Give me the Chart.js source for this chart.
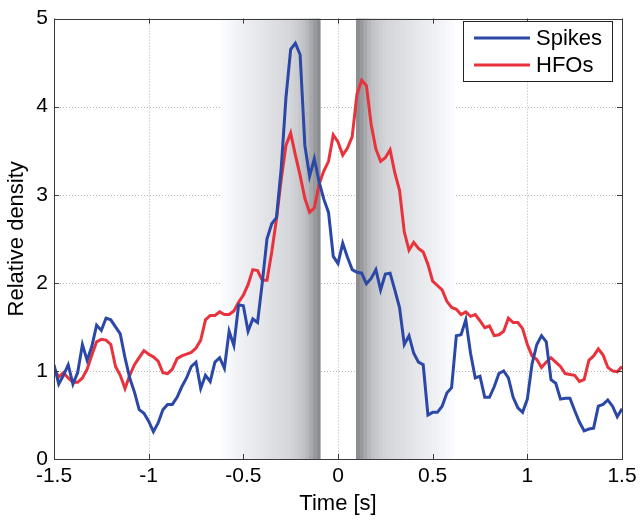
<!DOCTYPE html>
<html>
<head>
<meta charset="utf-8">
<script src="https://cdn.jsdelivr.net/npm/chart.js@4/dist/chart.umd.min.js"></script>
<style>
  html, body { margin: 0; padding: 0; background: #fff; }
  #wrap { width: 644px; height: 522px; }
</style>
</head>
<body>
<div id="wrap"><canvas id="densityChart" width="644" height="522"></canvas></div>
<script>
// values, one every 0.025 s from -1.5 to 1.5
var spikes = [
  1.07, 0.85, 0.95, 1.07, 0.85, 0.98, 1.30, 1.12, 1.28, 1.52,
  1.46, 1.60, 1.58, 1.50, 1.42, 1.15, 0.92, 0.76, 0.56, 0.52,
  0.43, 0.31, 0.41, 0.56, 0.62, 0.62, 0.70, 0.82, 0.92, 1.05,
  1.10, 0.80, 0.95, 0.88, 1.10, 1.15, 1.03, 1.45, 1.29, 1.75,
  1.74, 1.45, 1.59, 1.55, 2.00, 2.50, 2.67, 2.74, 3.30, 4.10,
  4.65, 4.72, 4.59, 3.56, 3.21, 3.41, 3.15, 2.95, 2.80, 2.30,
  2.22, 2.45, 2.29, 2.15, 2.12, 2.11, 1.99, 2.05, 2.15, 1.92,
  2.10, 2.11, 1.92, 1.72, 1.30, 1.40, 1.20, 1.10, 1.07, 0.50,
  0.53, 0.53, 0.60, 0.75, 0.81, 1.40, 1.41, 1.58, 1.20, 0.92,
  0.94, 0.70, 0.70, 0.82, 0.97, 1.00, 0.92, 0.70, 0.58, 0.53,
  0.68, 1.08, 1.30, 1.40, 1.33, 0.90, 0.86, 0.68, 0.69, 0.69,
  0.55, 0.42, 0.32, 0.34, 0.35, 0.60, 0.62, 0.67, 0.60, 0.48,
  0.57
];
var hfos = [
  1.03, 0.93, 0.98, 0.92, 0.87, 0.87, 0.92, 1.02, 1.18, 1.33,
  1.36, 1.35, 1.30, 1.05, 0.95, 0.80, 0.95, 1.07, 1.15, 1.23,
  1.19, 1.16, 1.11, 0.98, 0.97, 1.02, 1.14, 1.17, 1.19, 1.21,
  1.26, 1.35, 1.58, 1.63, 1.63, 1.67, 1.64, 1.64, 1.68, 1.78,
  1.86, 1.98, 2.15, 2.14, 2.03, 2.03, 2.35, 2.72, 3.17, 3.56,
  3.70, 3.45, 3.22, 2.96, 2.80, 2.85, 3.12, 3.27, 3.38, 3.68,
  3.60, 3.45, 3.53, 3.66, 4.14, 4.30, 4.24, 3.80, 3.52, 3.38,
  3.42, 3.51, 3.25, 3.05, 2.58, 2.37, 2.46, 2.39, 2.35, 2.21,
  2.02, 1.97, 1.92, 1.79, 1.72, 1.70, 1.64, 1.67, 1.62, 1.64,
  1.57, 1.49, 1.51, 1.40, 1.41, 1.45, 1.60, 1.55, 1.55, 1.48,
  1.30, 1.17, 1.13, 1.04, 1.10, 1.15, 1.10, 1.05, 0.97, 0.96,
  0.95, 0.88, 0.90, 1.12, 1.17, 1.25, 1.18, 1.04, 1.00, 0.99,
  1.05
];
var times = spikes.map(function (v, i) { return -1.5 + i * 0.025; });

var xTicks = [-1.5, -1, -0.5, 0, 0.5, 1, 1.5];
var yTicks = [0, 1, 2, 3, 4, 5];

// shaded bands either side of zero (|t| where each band starts, darkness 0..1)
var shadeStart = [
  0.095, 0.115, 0.135, 0.155, 0.175, 0.195, 0.215, 0.235, 0.255, 0.275,
  0.295, 0.315, 0.335, 0.355, 0.375, 0.395, 0.415, 0.435, 0.455, 0.475,
  0.495, 0.515, 0.535, 0.555, 0.575, 0.595
];
var shadeLevel = [
  0.92, 0.82, 0.70, 0.58, 0.50, 0.45, 0.40, 0.36, 0.33, 0.32,
  0.30, 0.28, 0.27, 0.25, 0.23, 0.21, 0.19, 0.18, 0.16, 0.15,
  0.13, 0.12, 0.10, 0.08, 0.06, 0.04
];
var shadeWidth = 0.02;

var seriesNames = ["Spikes", "HFOs"];
var seriesColors = ["#2c48a6", "#e8323c"];

function toPoints(vals) {
  return vals.map(function (v, i) { return { x: times[i], y: v }; });
}

var frameColor = "#3a3a3a";
var fontFamily = "'Liberation Sans', Arial, sans-serif";

// background: dotted grid, then the gray bands on top of it
var backdrop = {
  id: "backdrop",
  beforeDatasetsDraw: function (chart) {
    var ctx = chart.ctx, a = chart.chartArea;
    var x = chart.scales.x, y = chart.scales.y;
    ctx.save();
    ctx.strokeStyle = "#b4b4b4";
    ctx.lineWidth = 1;
    ctx.setLineDash([1, 2]);
    xTicks.forEach(function (t) {
      var px = Math.round(x.getPixelForValue(t)) + 0.5;
      ctx.beginPath(); ctx.moveTo(px, a.top); ctx.lineTo(px, a.bottom); ctx.stroke();
    });
    yTicks.forEach(function (t) {
      var py = Math.round(y.getPixelForValue(t)) + 0.5;
      ctx.beginPath(); ctx.moveTo(a.left, py); ctx.lineTo(a.right, py); ctx.stroke();
    });
    ctx.setLineDash([]);
    for (var i = 0; i < shadeStart.length; i++) {
      var c = Math.round(255 - shadeLevel[i] * 125);
      ctx.fillStyle = "rgb(" + c + "," + (c + 1) + "," + Math.min(255, c + 5) + ")";
      [1, -1].forEach(function (s) {
        var p1 = x.getPixelForValue(s * shadeStart[i]);
        var p2 = x.getPixelForValue(s * (shadeStart[i] + shadeWidth));
        ctx.fillRect(Math.min(p1, p2), a.top, Math.abs(p2 - p1) + 0.6, a.bottom - a.top);
      });
    }
    ctx.restore();
  },
  afterDatasetsDraw: function (chart) {
    var ctx = chart.ctx, a = chart.chartArea;
    var x = chart.scales.x, y = chart.scales.y;
    ctx.save();
    ctx.strokeStyle = frameColor;
    ctx.lineWidth = 1;
    ctx.strokeRect(Math.round(a.left) + 0.5, Math.round(a.top) + 0.5,
      Math.round(a.right - a.left), Math.round(a.bottom - a.top));
    var len = 5;
    xTicks.forEach(function (t) {
      var px = Math.round(x.getPixelForValue(t)) + 0.5;
      ctx.beginPath();
      ctx.moveTo(px, a.bottom); ctx.lineTo(px, a.bottom - len);
      ctx.moveTo(px, a.top); ctx.lineTo(px, a.top + len);
      ctx.stroke();
    });
    yTicks.forEach(function (t) {
      var py = Math.round(y.getPixelForValue(t)) + 0.5;
      ctx.beginPath();
      ctx.moveTo(a.left, py); ctx.lineTo(a.left + len, py);
      ctx.moveTo(a.right, py); ctx.lineTo(a.right - len, py);
      ctx.stroke();
    });
    ctx.restore();
  },
  afterDraw: function (chart) {
    // boxed legend in the top right corner
    var ctx = chart.ctx;
    ctx.save();
    ctx.fillStyle = "#fff";
    ctx.fillRect(463, 21, 149, 60);
    ctx.strokeStyle = "#222";
    ctx.lineWidth = 1;
    ctx.strokeRect(463.5, 21.5, 149, 60);
    ctx.font = "22px " + fontFamily;
    ctx.textBaseline = "middle";
    ctx.fillStyle = "#000";
    seriesNames.forEach(function (name, i) {
      var ly = 38 + i * 27;
      ctx.strokeStyle = seriesColors[i];
      ctx.lineWidth = 3;
      ctx.beginPath(); ctx.moveTo(474, ly); ctx.lineTo(530, ly); ctx.stroke();
      ctx.fillText(name, 536, ly + 1);
    });
    ctx.restore();
  }
};

var ctx = document.getElementById("densityChart").getContext("2d");
var chart = new Chart(ctx, {
  type: "line",
  data: {
    datasets: seriesNames.map(function (name, i) {
      return {
        label: name,
        data: toPoints(i === 0 ? spikes : hfos),
        borderColor: seriesColors[i],
        borderWidth: 3,
        pointRadius: 0,
        tension: 0,
        fill: false
      };
    })
  },
  options: {
    responsive: false,
    animation: false,
    layout: { padding: { left: 0, top: 12, right: 22, bottom: 0 } },
    plugins: { legend: { display: false }, tooltip: { enabled: false } },
    scales: {
      x: {
        type: "linear",
        min: -1.5,
        max: 1.5,
        afterBuildTicks: function (scale) {
          scale.ticks = xTicks.map(function (v) { return { value: v }; });
        },
        afterFit: function (scale) { scale.height = 63; },
        grid: { display: false, drawTicks: false },
        border: { display: false },
        ticks: {
          padding: 5,
          color: "#000",
          font: { family: fontFamily, size: 21 },
          callback: function (v) { return String(v); }
        },
        title: {
          display: true,
          text: "Time [s]",
          color: "#000",
          padding: { top: 0, bottom: 5 },
          font: { family: fontFamily, size: 22 }
        }
      },
      y: {
        min: 0,
        max: 5,
        afterBuildTicks: function (scale) {
          scale.ticks = yTicks.map(function (v) { return { value: v }; });
        },
        afterFit: function (scale) { scale.width = 54; },
        grid: { display: false, drawTicks: false },
        border: { display: false },
        ticks: {
          padding: 6,
          color: "#000",
          font: { family: fontFamily, size: 21 }
        },
        title: {
          display: true,
          text: "Relative density",
          color: "#000",
          padding: { top: 4, bottom: 0 },
          font: { family: fontFamily, size: 22 }
        }
      }
    }
  },
  plugins: [backdrop]
});
</script>
</body>
</html>
